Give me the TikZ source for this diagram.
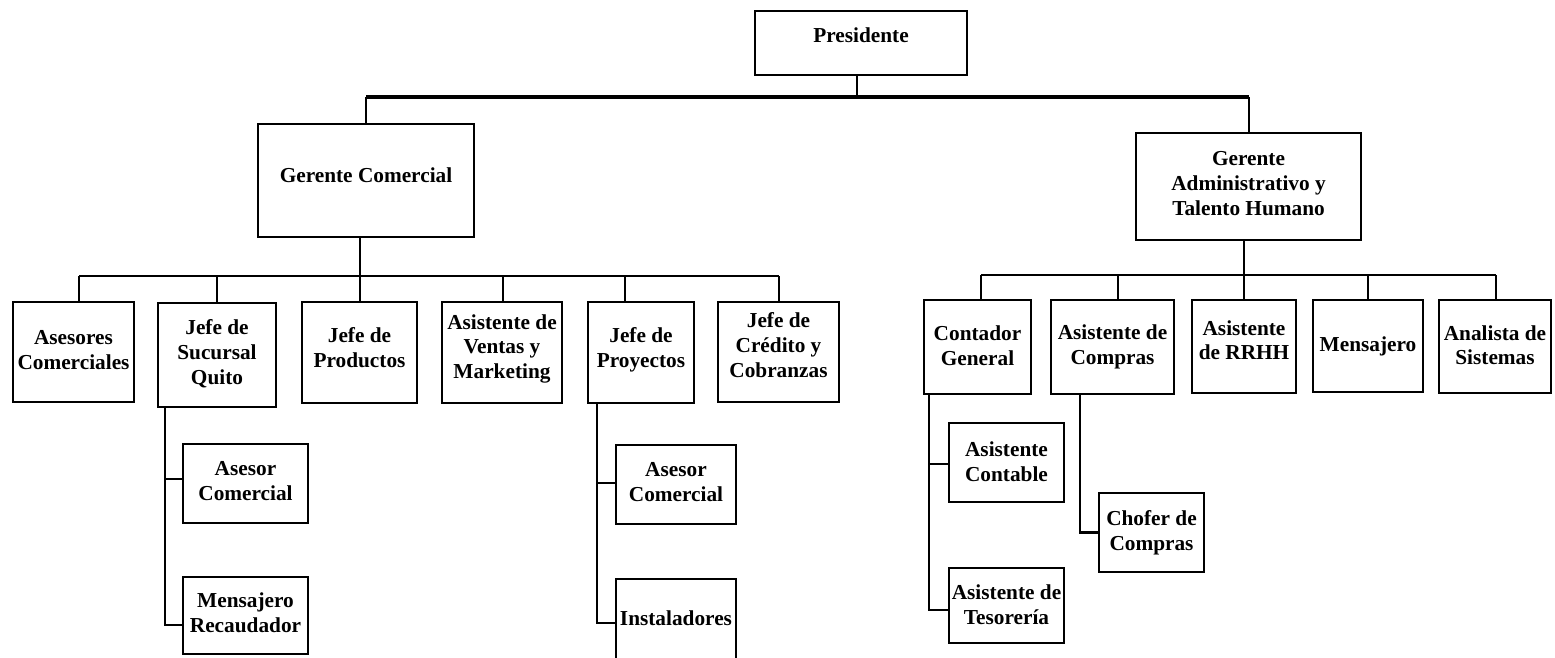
\documentclass[tikz,border=0pt]{standalone}
\usepackage{fontspec}
\setmainfont{Liberation Serif}
\usetikzlibrary{calc}
\newcommand{\boxtxt}[2]{\raisebox{#1pt}[\height][\depth]{\begin{tabular}{@{}c@{}}#2\end{tabular}}}
\tikzset{
  orgbox/.style={draw=black, line width=1.8pt, inner sep=0pt, fill=white,
    font=\fontsize{21.3}{24.8}\selectfont\bfseries},
  conn/.style={draw=black, line width=2pt},
  subconn/.style={draw=black, line width=2.2pt},
  levelbar/.style={draw=black, line width=2.5pt},
  topbar/.style={draw=black, line width=3.2pt},
}
\begin{document}
\begin{tikzpicture}[x=1pt,y=-1pt]
\useasboundingbox (0,0) rectangle (1555,657);
% level 0/1
\node[orgbox, minimum width=212pt, minimum height=64pt] (pres) at (861,43) {\boxtxt{5}{Presidente}};
\node[orgbox, minimum width=216pt, minimum height=113pt] (gc) at (366,180.5) {\boxtxt{2.5}{Gerente Comercial}};
\node[orgbox, minimum width=225pt, minimum height=107pt] (ga) at (1248.5,186.5) {\boxtxt{1}{Gerente\\Administrativo y\\Talento Humano}};
% commercial level
\node[orgbox, minimum width=121pt, minimum height=100pt] (ases) at (73.5,352) {\boxtxt{0}{Asesores\\Comerciales}};
\node[orgbox, minimum width=118pt, minimum height=104pt] (suc) at (217,355) {\boxtxt{0.5}{Jefe de\\Sucursal\\Quito}};
\node[orgbox, minimum width=115pt, minimum height=101pt] (prod) at (359.5,352.5) {\boxtxt{2.5}{Jefe de\\Productos}};
\node[orgbox, minimum width=120pt, minimum height=101pt] (vent) at (502,352.5) {\boxtxt{3.5}{Asistente de\\Ventas y\\Marketing}};
\node[orgbox, minimum width=106pt, minimum height=101pt] (proy) at (641,352.5) {\boxtxt{2.5}{Jefe de\\Proyectos}};
\node[orgbox, minimum width=121pt, minimum height=100pt] (cred) at (778.5,352) {\boxtxt{4.5}{Jefe de\\Crédito y\\Cobranzas}};
% admin level
\node[orgbox, minimum width=107pt, minimum height=94pt] (cont) at (977.5,347) {\boxtxt{-1}{Contador\\General}};
\node[orgbox, minimum width=123pt, minimum height=94pt] (comp) at (1112.5,347) {\boxtxt{0}{Asistente de\\Compras}};
\node[orgbox, minimum width=104pt, minimum height=93pt] (rrhh) at (1244,346.5) {\boxtxt{4}{Asistente\\de RRHH}};
\node[orgbox, minimum width=110pt, minimum height=92pt] (mens) at (1368,346) {\boxtxt{-1}{Mensajero}};
\node[orgbox, minimum width=112pt, minimum height=93pt] (anal) at (1495,346.5) {\boxtxt{-1}{Analista de\\Sistemas}};
% sub boxes
\node[orgbox, minimum width=125pt, minimum height=79pt] (asc1) at (245.5,483.5) {\boxtxt{0.5}{Asesor\\Comercial}};
\node[orgbox, minimum width=125pt, minimum height=77pt] (mr) at (245.5,615.5) {\boxtxt{0.5}{Mensajero\\Recaudador}};
\node[orgbox, minimum width=120pt, minimum height=79pt] (asc2) at (676,484.5) {\boxtxt{0.5}{Asesor\\Comercial}};
\node[orgbox, minimum width=120pt, minimum height=82pt] (inst) at (676,620) {\boxtxt{-0.5}{Instaladores}};
\node[orgbox, minimum width=115pt, minimum height=79pt] (ac) at (1006.5,462.5) {\boxtxt{-1.5}{Asistente\\Contable}};
\node[orgbox, minimum width=115pt, minimum height=75pt] (tes) at (1006.5,605.5) {\boxtxt{-1.5}{Asistente de\\Tesorería}};
\node[orgbox, minimum width=105pt, minimum height=79pt] (ch) at (1151.5,532.5) {\boxtxt{-0.5}{Chofer de\\Compras}};

% bar levels
\coordinate (tb) at (0,97);
\coordinate (cb) at (0,276);
\coordinate (ab) at (0,275);

% president
\coordinate (presd) at ($(pres.south)+(-4,0)$);
\draw[conn] (presd) -- (presd |- tb);
\draw[topbar] (gc.north |- tb) -- (ga.north |- tb);
\draw[conn] (gc.north |- tb) -- (gc.north);
\draw[conn] (ga.north |- tb) -- (ga.north);

% commercial
\draw[conn] (gc.south -| prod.north) -- (prod.north |- cb);
\coordinate (asesd) at ($(ases.north)+(5.5,0)$);
\coordinate (sucd) at (suc.north);
\coordinate (prodd) at (prod.north);
\coordinate (ventd) at ($(vent.north)+(1,0)$);
\coordinate (proyd) at ($(proy.north)+(-16,0)$);
\coordinate (credd) at ($(cred.north)+(0.5,0)$);
\draw[levelbar] (asesd |- cb) -- (credd |- cb);
\foreach \d in {asesd,sucd,prodd,ventd,proyd,credd}
  \draw[conn] (\d |- cb) -- (\d);

% administrative
\draw[conn] (ga.south -| rrhh.north) -- (rrhh.north |- ab);
\coordinate (contd) at ($(cont.north)+(3.5,0)$);
\coordinate (compd) at ($(comp.north)+(5.5,0)$);
\coordinate (rrhhd) at (rrhh.north);
\coordinate (mensd) at (mens.north);
\coordinate (anald) at ($(anal.north)+(1,0)$);
\draw[levelbar] (contd |- ab) -- (anald |- ab);
\foreach \d in {contd,compd,rrhhd,mensd,anald}
  \draw[conn] (\d |- ab) -- (\d);

% sucursal subtree
\coordinate (sv) at ($(suc.south)+(-52,0)$);
\coordinate (asc1b) at ($(asc1.west)+(0,-4.5)$);
\coordinate (mrb) at ($(mr.west)+(0,9.5)$);
\draw[subconn] (sv) |- (mrb);
\draw[subconn] (sv |- asc1b) -- (asc1b);

% proyectos subtree
\coordinate (pv) at ($(proy.south)+(-44,0)$);
\coordinate (asc2b) at ($(asc2.west)+(0,-1.5)$);
\coordinate (instb) at ($(inst.west)+(0,3)$);
\draw[subconn] (pv) |- (instb);
\draw[subconn] (pv |- asc2b) -- (asc2b);

% contador subtree
\coordinate (cv) at ($(cont.south)+(-48.5,0)$);
\coordinate (acb) at ($(ac.west)+(0,1.5)$);
\coordinate (tesb) at ($(tes.west)+(0,4.5)$);
\draw[subconn] (cv) |- (tesb);
\draw[subconn] (cv |- acb) -- (acb);

% compras subtree
\coordinate (kv) at ($(comp.south)+(-32.5,0)$);
\draw[subconn] (kv) |- (ch.west);
\end{tikzpicture}
\end{document}
